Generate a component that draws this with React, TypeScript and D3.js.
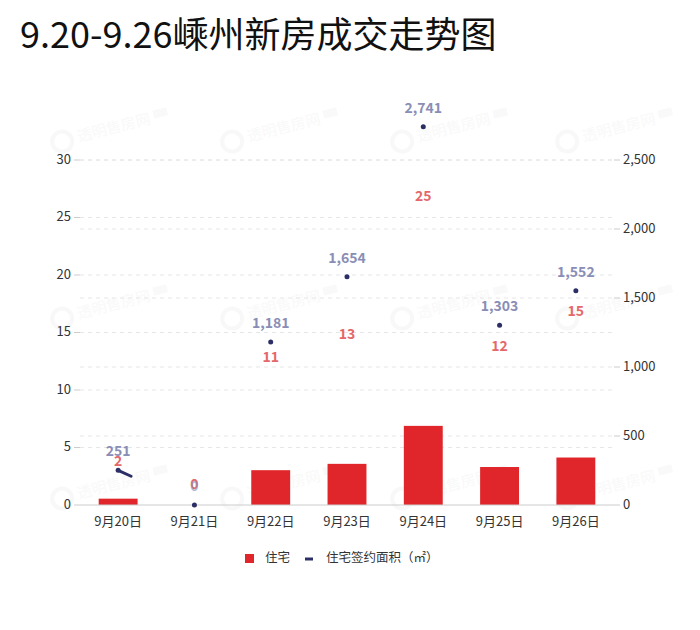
import React from "react";
import * as d3 from "d3";

const categories = ["9月20日", "9月21日", "9月22日", "9月23日", "9月24日", "9月25日", "9月26日"];
const unitCounts = [2, 0, 11, 13, 25, 12, 15];
const areaValues = [251, 0, 1181, 1654, 2741, 1303, 1552];
const leftTicks = [0, 5, 10, 15, 20, 25, 30];
const rightTicks = [0, 500, 1000, 1500, 2000, 2500];
const watermarkCols = [100, 270, 440, 605];
const watermarkRows = [128, 305, 485];

const W = 700;
const H = 630;
const X0 = 80;
const X1 = 614;
const Y0 = 505;
const Y1 = 160;
const FONT = "'Noto Sans CJK SC', 'Noto Sans', sans-serif";
const RED = "#e0262a";
const NAVY = "#2b2f66";
const RED_LABEL = "#e4686a";
const BLUE_LABEL = "#8a8db6";

export default function App() {
  const x = d3.scaleBand<string>().domain(categories).range([X0, X1]).paddingInner(0).paddingOuter(0);
  const yL = d3.scaleLinear().domain([0, 30]).range([Y0, Y1]);
  const yR = d3.scaleLinear().domain([0, 2500]).range([Y0, Y1]);
  const yBar = d3.scaleLinear().domain([0, 109]).range([Y0, Y1]);
  const step = x.step();
  const barW = step * 0.51;
  const cx = (c: string) => (x(c) as number) + step / 2;

  // partial line segment (as drawn in the reference: only first part of the first segment)
  const frac = 0.17;
  const p0 = [cx(categories[0]), yR(areaValues[0])];
  const p1 = [cx(categories[1]), yR(areaValues[1])];
  const segEnd = [p0[0] + (p1[0] - p0[0]) * frac, p0[1] + (p1[1] - p0[1]) * frac];
  const lineGen = d3.line<number[]>().x((d) => d[0]).y((d) => d[1]);

  return (
    <svg width={W} height={H} style={{ display: "block", position: "absolute", left: 0, top: 0, background: "#fff" }} fontFamily={FONT}>
      <rect x={0} y={0} width={W} height={H} fill="#fff" />
      {/* watermarks */}
      {watermarkRows.map((wy) =>
        watermarkCols.map((wx) => (
          <g key={`${wx}-${wy}`} transform={`translate(${wx},${wy}) rotate(-14)`} opacity={0.45}>
            <circle cx={-40} cy={4} r={10} fill="none" stroke="#f0f0f0" strokeWidth={4} />
            <text x={-24} y={4} fontSize={15} fill="#f2f2f2" dominantBaseline="middle">透明售房网</text>
            <rect x={55} y={-4} width={14} height={8} fill="#f2f2f2" />
          </g>
        ))
      )}
      <text x={20} y={38} fontSize={36} fill="#111" dominantBaseline="middle">9.20-9.26嵊州新房成交走势图</text>

      {/* grid lines */}
      {leftTicks.slice(1).map((t) => (
        <line key={`gl${t}`} x1={X0} x2={X1} y1={yL(t)} y2={yL(t)} stroke="#e6e6e6" strokeDasharray="4,4" />
      ))}
      {rightTicks.slice(1).map((t) => (
        <line key={`gr${t}`} x1={X0} x2={X1} y1={yR(t)} y2={yR(t)} stroke="#e6e6e6" strokeDasharray="4,4" />
      ))}

      {/* left axis */}
      {leftTicks.map((t) => (
        <g key={`lt${t}`}>
          <line x1={X0 - 6} x2={X0} y1={yL(t)} y2={yL(t)} stroke="#ccc" />
          <text x={X0 - 9} y={yL(t)} fontSize={13} fill="#333" textAnchor="end" dominantBaseline="middle">{t}</text>
        </g>
      ))}
      {/* right axis */}
      {rightTicks.map((t) => (
        <g key={`rt${t}`}>
          <line x1={X1} x2={X1 + 6} y1={yR(t)} y2={yR(t)} stroke="#ccc" />
          <text x={X1 + 9} y={yR(t)} fontSize={13} fill="#333" textAnchor="start" dominantBaseline="middle">{d3.format(",")(t)}</text>
        </g>
      ))}

      {/* bars */}
      {categories.map((c, i) => (
        <rect key={`b${c}`} x={cx(c) - barW / 2} y={yBar(unitCounts[i])} width={barW} height={Y0 - yBar(unitCounts[i])} fill={RED} />
      ))}

      {/* x axis */}
      <line x1={X0} x2={X1} y1={Y0} y2={Y0} stroke="#ccc" />
      {categories.map((c) => (
        <text key={`xl${c}`} x={cx(c)} y={Y0 + 17} fontSize={13} fill="#333" textAnchor="middle" dominantBaseline="middle">{c}</text>
      ))}

      {/* partial line */}
      <path d={lineGen([p0, segEnd]) || ""} stroke={NAVY} strokeWidth={3} fill="none" strokeLinecap="round" />
      {/* points */}
      {categories.map((c, i) => (
        <circle key={`p${c}`} cx={cx(c)} cy={yR(areaValues[i])} r={2.5} fill={NAVY} />
      ))}

      {/* bar labels */}
      {categories.map((c, i) => (
        <text key={`bl${c}`} x={cx(c)} y={yL(unitCounts[i]) - 20} fontSize={14} fontWeight="bold" fill={RED_LABEL} textAnchor="middle" dominantBaseline="middle">{unitCounts[i]}</text>
      ))}
      {/* line labels */}
      {categories.map((c, i) => (
        <text key={`ll${c}`} x={cx(c)} y={yR(areaValues[i]) - 18} fontSize={14} fontWeight="bold" fill={BLUE_LABEL} opacity={i === 1 ? 0.6 : 1} textAnchor="middle" dominantBaseline="middle">{d3.format(",")(areaValues[i])}</text>
      ))}

      {/* legend */}
      <rect x={245} y={554} width={9} height={9} fill={RED} />
      <text x={265} y={559} fontSize={12.5} fill="#333" dominantBaseline="middle">住宅</text>
      <line x1={305} x2={313} y1={559} y2={559} stroke={NAVY} strokeWidth={3} />
      <text x={326} y={559} fontSize={12.5} fill="#333" dominantBaseline="middle">住宅签约面积（㎡）</text>
    </svg>
  );
}
